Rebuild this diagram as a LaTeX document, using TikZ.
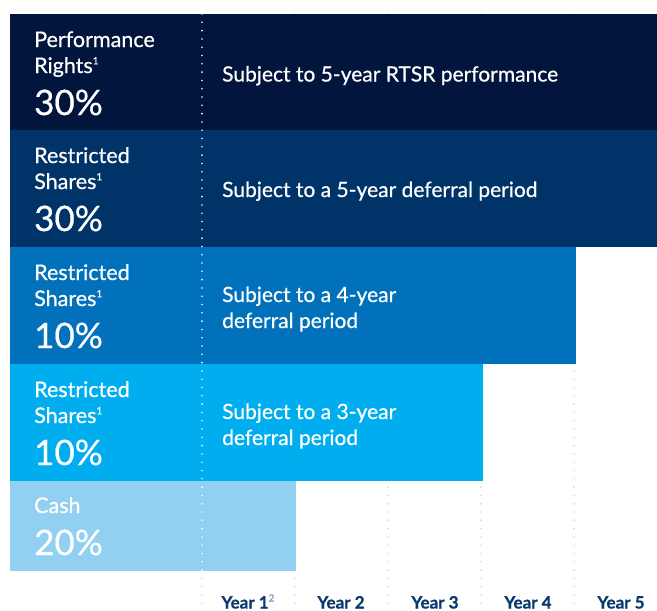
\documentclass[tikz,border=0pt]{standalone}
\usepackage{fontspec}
\setmainfont{Lato}[UprightFeatures={FakeBold=0.6}, BoldFeatures={FakeBold=0.8}]
\usetikzlibrary{positioning}
\definecolor{rowone}{RGB}{1,21,61}
\definecolor{rowtwo}{RGB}{0,51,104}
\definecolor{rowthree}{RGB}{0,113,186}
\definecolor{rowfour}{RGB}{0,174,239}
\definecolor{rowfive}{RGB}{146,208,242}
\definecolor{dotgray}{RGB}{214,214,230}
\definecolor{yearblue}{RGB}{10,57,112}
\definecolor{notelight}{RGB}{120,150,195}
\newcommand{\supnum}[1]{\raisebox{0.8ex}{\fontsize{10}{10}\selectfont #1}}

\begin{document}
\begin{tikzpicture}[x=1pt, y=-1pt,
    bar/.style={anchor=north west, inner sep=0pt, outer sep=0pt, draw=none},
    kind/.style={anchor=base west, inner sep=0pt, text=white, font=\fontsize{21.5}{24}\selectfont},
    pct/.style={anchor=base west, inner sep=0pt, text=white, font=\fontsize{35}{38}\selectfont},
    term/.style={anchor=base west, inner sep=0pt, text=white, font=\fontsize{21}{24}\selectfont},
    yearlbl/.style={anchor=base, inner sep=0pt, text=yearblue, font=\bfseries\fontsize{17}{20}\selectfont},
    griddots/.style={draw=dotgray, line width=1.8pt, line cap=round, dash pattern=on 0pt off 8.3pt},
    whitedots/.style={griddots, draw=white!90!rowfive}]

    \useasboundingbox (0,0) rectangle (657,611);

    % year grid
    \foreach \x in {202,295,388,481,574}
        \draw[griddots] (\x,14) -- (\x,611);

    % bars
    \node[bar, fill=rowone, minimum width=647pt, minimum height=116pt] (perf) at (10,14) {};
    \node[bar, fill=rowtwo, minimum width=647pt, minimum height=117pt] (rsfive) at (10,130) {};
    \node[bar, fill=rowthree, minimum width=566pt, minimum height=117pt] (rsfour) at (10,247) {};
    \node[bar, fill=rowfour, minimum width=473pt, minimum height=117pt] (rsthree) at (10,364) {};
    \node[bar, fill=rowfive, minimum width=286pt, minimum height=90pt] (cash) at (10,481) {};

    \draw[whitedots] (202,14) -- (202,571);

    % left labels
    \node[kind] (perfa) at (34,47) {Performance};
    \node[kind] (perfb) at (34,73) {Rights\supnum{1}};
    \node[pct] (perfc) at (34,115) {30\%};

    \node[kind] (rsfivea) at (34,163) {Restricted};
    \node[kind] (rsfiveb) at (34,189) {Shares\supnum{1}};
    \node[pct] (rsfivec) at (34,231) {30\%};

    \node[kind] (rsfoura) at (34,280) {Restricted};
    \node[kind] (rsfourb) at (34,306) {Shares\supnum{1}};
    \node[pct] (rsfourc) at (34,348) {10\%};

    \node[kind] (rsthreea) at (34,397) {Restricted};
    \node[kind] (rsthreeb) at (34,423) {Shares\supnum{1}};
    \node[pct] (rsthreec) at (34,465) {10\%};

    \node[kind] (casha) at (34,513) {Cash};
    \node[pct] (cashb) at (34,555) {20\%};

    % vesting terms
    \node[term] (perft) at (222,81.5) {Subject to 5-year RTSR performance};
    \node[term] (rsfivet) at (222,197) {Subject to a 5-year deferral period};
    \node[term] (rsfourt) at (222,302) {Subject to a 4-year};
    \node[term] (rsfourtb) at ([yshift=-26pt]rsfourt.base west) {deferral period};
    \node[term] (rsthreet) at (222,419) {Subject to a 3-year};
    \node[term] (rsthreetb) at ([yshift=-26pt]rsthreet.base west) {deferral period};

    % years
    \node[yearlbl] (yr1) at (248,608.5) {Year 1\textcolor{notelight}{\supnum{\mdseries 2}}};
    \foreach \n/\x in {2/341,3/435,4/528,5/621}
        \node[yearlbl] (yr\n) at (\x,608.5) {Year \n};
\end{tikzpicture}
\end{document}
